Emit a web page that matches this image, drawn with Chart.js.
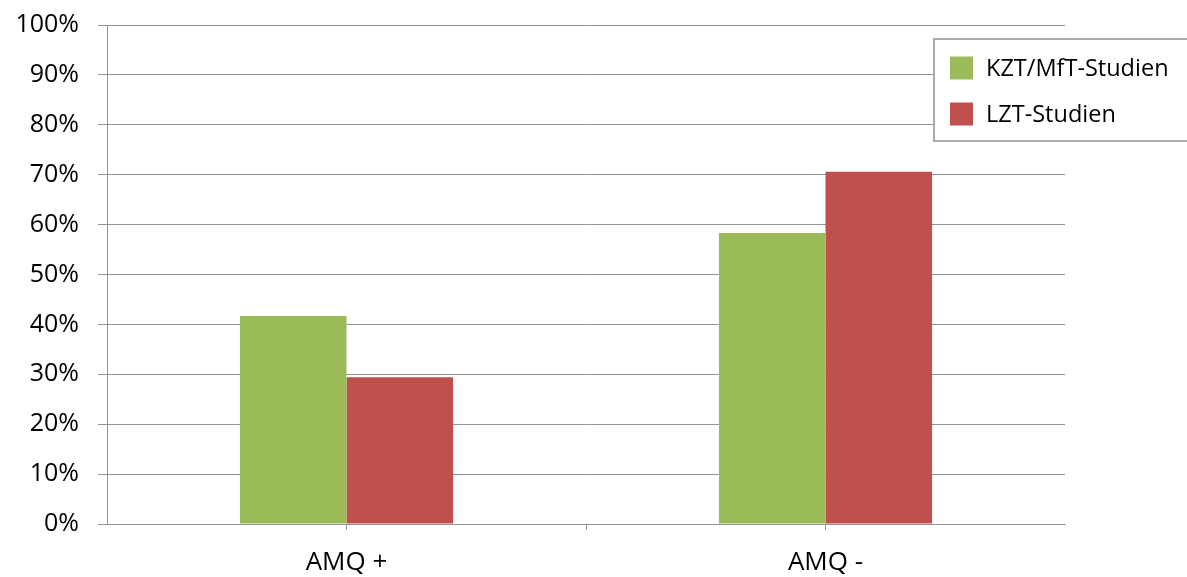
<!DOCTYPE html>
<html>
<head>
<meta charset="utf-8">
<script src="https://cdn.jsdelivr.net/npm/chart.js@4/dist/chart.umd.min.js"></script>
<style>
  html, body { margin: 0; padding: 0; background: #ffffff; }
  #wrap { width: 1187px; height: 577px; position: relative; }
</style>
</head>
<body>
<div id="wrap"><canvas id="c" width="1187" height="577"></canvas></div>
<script>
// Share of studies per AMQ group
const categories = ['AMQ +', 'AMQ -'];
const seriesNames = ['KZT/MfT-Studien', 'LZT-Studien'];
const kztValues = [41.7, 58.3];
const lztValues = [29.4, 70.6];
const seriesColors = ['#9BBB59', '#C0504D'];

const FONT = '"Open Sans", "Noto Sans", sans-serif';
const gridColor = '#949494';

// Boxed legend in the upper right, drawn from the dataset labels and colours
const boxLegend = {
  id: 'boxLegend',
  afterDraw(chart) {
    const ctx = chart.ctx;
    const x0 = 934, y0 = 39, w = 260, h = 102;
    ctx.save();
    ctx.fillStyle = '#ffffff';
    ctx.fillRect(x0, y0, w, h);
    ctx.strokeStyle = '#ababab';
    ctx.lineWidth = 2;
    ctx.strokeRect(x0, y0, w, h);
    ctx.font = '23.5px ' + FONT;
    ctx.textBaseline = 'middle';
    chart.data.datasets.forEach((ds, i) => {
      const cy = 68 + i * 46;
      ctx.fillStyle = ds.backgroundColor;
      ctx.fillRect(950, cy - 11.5, 23, 23);
      ctx.fillStyle = '#000000';
      ctx.fillText(ds.label, 986, cy + 1);
    });
    ctx.restore();
  }
};

// Extra tick marks between categories on the x axis
const boundaryTicks = {
  id: 'boundaryTicks',
  afterDraw(chart) {
    const xs = chart.scales.x;
    const ctx = chart.ctx;
    const n = chart.data.labels.length;
    const step = (xs.right - xs.left) / n;
    ctx.save();
    ctx.strokeStyle = gridColor;
    ctx.lineWidth = 1;
    for (let i = 1; i < n; i++) {
      const x = Math.round(xs.left + step * i) + 0.5;
      ctx.beginPath();
      ctx.moveTo(x, xs.top);
      ctx.lineTo(x, xs.top + 6);
      ctx.stroke();
    }
    ctx.restore();
  }
};

new Chart(document.getElementById('c'), {
  type: 'bar',
  data: {
    labels: categories,
    datasets: [
      { label: seriesNames[0], data: kztValues, backgroundColor: seriesColors[0], borderWidth: 0 },
      { label: seriesNames[1], data: lztValues, backgroundColor: seriesColors[1], borderWidth: 0 }
    ]
  },
  options: {
    responsive: false,
    animation: false,
    layout: { padding: { top: 25, right: 122, left: 0, bottom: 0 } },
    datasets: { bar: { categoryPercentage: 0.445, barPercentage: 1.0 } },
    plugins: {
      legend: { display: false },
      tooltip: { enabled: false }
    },
    scales: {
      x: {
        grid: { display: true, drawOnChartArea: false, tickLength: 6, color: gridColor, offset: false },
        border: { display: true, color: gridColor, width: 1 },
        ticks: { color: '#000000', font: { family: FONT, size: 26 }, padding: 17 },
        afterFit(scale) { scale.height = 53; }
      },
      y: {
        min: 0,
        max: 100,
        ticks: {
          stepSize: 10,
          color: '#000000',
          font: { family: FONT, size: 25 },
          padding: 19,
          callback: v => v + '%'
        },
        grid: { color: gridColor, lineWidth: 1, tickLength: 9 },
        border: { display: true, color: gridColor, width: 1 },
        afterFit(scale) {
          scale.width = 107;
          scale.paddingTop = 0;
          scale.paddingBottom = 0;
        }
      }
    }
  },
  plugins: [boundaryTicks, boxLegend]
});
</script>
</body>
</html>
